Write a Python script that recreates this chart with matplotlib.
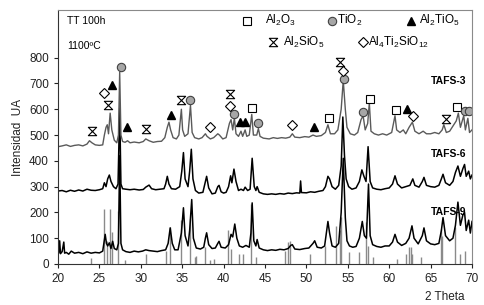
import matplotlib
matplotlib.use("Agg")
import matplotlib.pyplot as plt
from matplotlib.path import Path

plt.rcParams['font.family'] = ['Liberation Sans', 'DejaVu Sans']
plt.rcParams['mathtext.fontset'] = 'custom'
plt.rcParams['mathtext.rm'] = 'Liberation Sans'
plt.rcParams['mathtext.default'] = 'regular'

# --- diffractograms (values as shown, offsets included) ---
t3 = [20.0, 20.02, 20.5, 21, 21.5, 22, 22.5, 23, 23.5, 23.8, 24.1, 24.5, 25.0, 25.4, 25.6, 25.8, 25.95,
      26.1, 26.3, 26.5, 26.8, 27.1, 27.3, 27.45, 27.6, 27.8, 28.1, 28.4, 28.7, 29.2, 29.8, 30.3, 30.6,
      31.0, 31.5, 32, 32.5, 32.9, 33.2, 33.4, 33.6, 33.9, 34.3, 34.6, 34.9, 35.05, 35.3, 35.7, 36.0,
      36.2, 36.5, 37, 37.4, 37.8, 38.0, 38.4, 38.8, 39.3, 39.5, 39.9, 40.3, 40.7, 40.9, 41.1, 41.3,
      41.5, 41.8, 42.1, 42.3, 42.6, 42.8, 43.1, 43.4, 43.6, 44.0, 44.2, 44.4, 44.8, 45.5, 46, 46.5,
      47, 47.5, 48.0, 48.3, 48.6, 49.2, 49.8, 50.3, 50.8, 51.2, 51.8, 52.3, 52.6, 52.9, 53.4, 53.8,
      54.2, 54.45, 54.7, 54.9, 55.3, 55.8, 56.2, 56.6, 56.85, 57.1, 57.4, 57.6, 57.8, 58.2, 58.7,
      59.2, 59.7, 60.3, 60.7, 60.9, 61.3, 61.7, 62.0, 62.4, 62.8, 63.1, 63.6, 64.1, 64.5, 65, 65.5,
      66.0, 66.4, 66.6, 66.9, 67.3, 67.8, 68.1, 68.35, 68.6, 69.0, 69.2, 69.5, 69.7, 70]
i3 = [400, 455, 458, 462, 456, 460, 462, 458, 465, 478, 470, 462, 460, 462, 500, 530, 540,
      505, 585, 520, 480, 470, 500, 745, 500, 475, 472, 478, 470, 473, 470, 475, 485,
      478, 472, 475, 476, 490, 530, 550, 520, 490, 485, 500, 600, 520, 495, 505, 615,
      510, 490, 485, 490, 505, 495, 485, 490, 505, 500, 485, 490, 545, 560, 520, 565,
      505, 495, 515, 495, 520, 495, 500, 580, 500, 500, 525, 495, 488, 485, 490, 487,
      490, 488, 492, 505, 492, 490, 494, 492, 500, 495, 498, 510, 540, 505, 505, 520,
      600, 712, 600, 530, 505, 500, 510, 560, 575, 520, 545, 625, 515, 505, 500,
      505, 500, 510, 575, 520, 510, 520, 505, 530, 550, 515, 505, 515, 505, 505, 510,
      505, 520, 540, 510, 515, 540, 555, 585, 530, 575, 520, 565, 510, 520]

t6 = [20.0, 20.02, 20.5, 21, 21.5, 22, 22.5, 23, 23.5, 24, 24.5, 25, 25.4, 25.6, 25.8, 26.0, 26.2,
      26.4, 26.7, 27.0, 27.25, 27.45, 27.6, 27.8, 28.2, 28.7, 29.2, 29.8, 30.3, 30.6, 31.0, 31.3,
      31.8, 32.3, 32.8, 33.0, 33.2, 33.4, 33.7, 34.2, 34.7, 34.95, 35.15, 35.35, 35.7, 35.9, 36.1,
      36.3, 36.6, 37.0, 37.5, 37.8, 37.95, 38.2, 38.6, 39.0, 39.3, 39.45, 39.7, 40.0, 40.3, 40.6,
      40.85, 41.0, 41.25, 41.5, 41.8, 42.1, 42.4, 42.6, 42.9, 43.2, 43.45, 43.7, 43.9, 44.05, 44.3,
      44.8, 45.3, 45.8, 46.3, 46.8, 47.3, 47.8, 48.3, 48.8, 49.2, 49.3, 49.4, 50.0, 50.5, 51.0,
      51.5, 52.0, 52.3, 52.6, 52.8, 53.1, 53.5, 53.9, 54.2, 54.4, 54.6, 54.8, 55.1, 55.5, 56.0,
      56.4, 56.7, 56.95, 57.2, 57.45, 57.7, 58.0, 58.5, 59.0, 59.5, 60.0, 60.4, 60.7, 61.0, 61.5,
      62.0, 62.5, 62.85, 63.1, 63.6, 64.0, 64.2, 64.5, 65, 65.5, 66.0, 66.3, 66.5, 66.8, 67.3,
      67.7, 68.0, 68.3, 68.6, 68.9, 69.1, 69.3, 69.6, 69.8, 70]
i6 = [200, 283, 285, 280, 286, 282, 287, 283, 290, 286, 285, 288, 292, 315, 300, 330, 345,
      320, 300, 292, 310, 605, 310, 292, 290, 288, 290, 287, 289, 298, 306, 292,
      288, 290, 292, 310, 340, 310, 292, 290, 300, 360, 432, 330, 300, 360, 445,
      330, 285, 275, 278, 320, 340, 295, 272, 275, 300, 305, 280, 275, 278, 300,
      342, 315, 368, 320, 285, 290, 285, 298, 285, 290, 410, 300, 285, 300, 278,
      272, 270, 272, 270, 273, 271, 275, 273, 276, 275, 322, 277, 276, 280, 278,
      282, 285, 300, 340, 330, 300, 290, 305, 380, 570, 420, 330, 300, 290, 295,
      320, 365, 340, 320, 455, 320, 295, 290, 288, 292, 295, 310, 342, 310, 295,
      300, 305, 330, 305, 298, 320, 336, 305, 300, 298, 305, 330, 348, 315, 305,
      320, 355, 380, 340, 370, 386, 340, 360, 330, 345]

t9 = [20.0, 20.02, 20.1, 20.2, 20.3, 20.5, 20.7, 20.8, 21, 21.3, 21.6, 22, 22.5, 23, 23.5, 24, 24.5,
      25, 25.4, 25.6, 25.7, 25.85, 26.0, 26.2, 26.4, 26.6, 26.8, 27.1, 27.3, 27.45, 27.6, 27.8,
      28.2, 28.7, 29.2, 29.7, 30.2, 30.6, 31.0, 31.5, 32, 32.5, 33.0, 33.3, 33.55, 33.8, 34.1,
      34.5, 34.9, 35.15, 35.35, 35.7, 35.9, 36.15, 36.35, 36.7, 37.2, 37.6, 37.8, 37.95, 38.2,
      38.6, 39.0, 39.3, 39.45, 39.7, 40.2, 40.6, 40.9, 41.1, 41.35, 41.6, 41.9, 42.3, 42.7, 43.1,
      43.3, 43.45, 43.65, 43.9, 44.05, 44.3, 44.8, 45.3, 45.8, 46.3, 46.8, 47.3, 47.8, 48.1, 48.3,
      48.6, 49.2, 49.8, 50.3, 50.8, 51.0, 51.3, 51.8, 52.2, 52.6, 52.8, 53.1, 53.5, 53.9, 54.2,
      54.45, 54.7, 54.9, 55.2, 55.6, 56.0, 56.4, 56.75, 57.0, 57.25, 57.5, 57.7, 58.0, 58.5, 59.0,
      59.5, 60.0, 60.4, 60.7, 61.0, 61.5, 62.0, 62.4, 62.75, 63.0, 63.5, 64.0, 64.2, 64.5, 65.0,
      65.5, 66.0, 66.3, 66.5, 66.8, 67.3, 67.7, 68.0, 68.3, 68.6, 68.9, 69.1, 69.3, 69.6, 69.8, 70]
i9 = [0, 38, 45, 90, 40, 48, 85, 42, 45, 38, 50, 42, 45, 40, 47, 42, 45,
      43, 50, 95, 115, 80, 70, 82, 60, 88, 60, 55, 80, 420, 80, 55,
      48, 45, 50, 47, 50, 55, 52, 50, 48, 52, 55, 80, 140, 80, 55,
      55, 120, 218, 110, 70, 130, 250, 100, 62, 58, 65, 100, 121, 75,
      60, 62, 80, 88, 65, 62, 75, 115, 105, 155, 100, 70, 65, 72, 65,
      120, 237, 90, 70, 95, 62, 55, 52, 55, 53, 57, 55, 60, 72, 75,
      58, 56, 60, 62, 80, 90, 65, 62, 70, 165, 120, 70, 65, 80, 200,
      410, 180, 90, 70, 65, 68, 100, 165, 110, 100, 310, 110, 75, 68, 65,
      70, 70, 85, 115, 85, 72, 80, 100, 148, 100, 78, 110, 140, 90, 78,
      75, 80, 130, 180, 110, 90, 100, 150, 240, 150, 190, 200, 130, 170, 120, 165]

# reference pattern sticks
stick_t = [24.0, 25.5, 25.9, 26.3, 26.5, 27.3, 28.1, 30.6, 33.1, 33.5, 34.9, 35.9, 36.5, 36.7,
           37.7, 38.3, 38.9, 40.5, 40.9, 41.9, 42.4, 43.25, 43.9, 47.4, 47.8, 48.0, 50.4, 52.3,
           53.6, 54.0, 54.2, 55.1, 56.4, 57.2, 57.4, 58.0, 61.0, 62.0, 62.4, 62.6, 62.8, 63.8,
           66.2, 66.4, 68.0, 68.6, 69.2]
stick_i = [24, 214, 91, 214, 123, 205, 17, 39, 52, 143, 169, 175, 26, 30,
           65, 16, 20, 130, 58, 39, 39, 234, 26, 52, 84, 91, 39, 71,
           149, 130, 182, 45, 45, 162, 71, 26, 20, 39, 65, 65, 39, 29,
           136, 110, 143, 39, 52]

# phase markers
al2o3_t = [43.4, 52.7, 57.7, 60.8, 68.2]
al2o3_i = [604, 568, 639, 597, 607]
tio2_t = [27.6, 36.0, 41.3, 44.2, 54.6, 56.8, 69.1, 69.6]
tio2_i = [763, 635, 581, 546, 717, 591, 594, 594]
al2tio5_t = [26.5, 28.3, 33.7, 42.0, 42.6, 50.9, 62.2]
al2tio5_i = [695, 533, 578, 549, 549, 533, 600]
al2sio5_t = [24.1, 26.0, 30.6, 34.9, 40.8, 54.0, 66.9]
al2sio5_i = [516, 616, 525, 636, 659, 782, 562]
al4_t = [25.5, 38.4, 40.8, 48.3, 54.4, 62.9]
al4_i = [663, 533, 613, 538, 750, 572]

hourglass = Path([(-1, 1), (1, 1), (-1, -1), (1, -1), (-1, 1)],
                 [Path.MOVETO, Path.LINETO, Path.LINETO, Path.LINETO, Path.CLOSEPOLY])

fig = plt.figure(figsize=(4.85, 3.05), dpi=100)
ax = fig.add_axes([58 / 485, 41 / 305, 414 / 485, 254 / 305])

ax.vlines(stick_t, 0, stick_i, color='#8a8a8a', lw=1)
ax.plot(t9, i9, color='black', lw=1.1)
ax.plot(t6, i6, color='black', lw=1.1)
ax.plot(t3, i3, color='#5a5a5a', lw=1.0)

ms = 6
ax.plot(al2o3_t, al2o3_i, 's', ms=ms, mfc='white', mec='black', mew=0.8, ls='none')
ax.plot(tio2_t, tio2_i, 'o', ms=ms, mfc='#a6a6a6', mec='#404040', mew=0.8, ls='none')
ax.plot(al2tio5_t, al2tio5_i, '^', ms=ms, mfc='black', mec='black', ls='none')
ax.plot(al2sio5_t, al2sio5_i, marker=hourglass, ms=ms, mfc='white', mec='black', mew=0.8, ls='none')
ax.plot(al4_t, al4_i, 'D', ms=4.8, mfc='white', mec='black', mew=0.8, ls='none')

# legend drawn inside the frame
tr = ax.transAxes
ax.plot([0.457], [0.957], 's', ms=ms, mfc='white', mec='black', mew=0.8, transform=tr)
ax.text(0.50, 0.957, r'Al$_2$O$_3$', transform=tr, fontsize=8.5, va='center')
ax.plot([0.662], [0.957], 'o', ms=ms, mfc='#a6a6a6', mec='#404040', mew=0.8, transform=tr)
ax.text(0.674, 0.957, r'TiO$_2$', transform=tr, fontsize=8.5, va='center')
ax.plot([0.852], [0.957], '^', ms=ms, mfc='black', mec='black', transform=tr)
ax.text(0.872, 0.957, r'Al$_2$TiO$_5$', transform=tr, fontsize=8.5, va='center')
ax.plot([0.519], [0.874], marker=hourglass, ms=ms, mfc='white', mec='black', mew=0.8, transform=tr)
ax.text(0.543, 0.874, r'Al$_2$SiO$_5$', transform=tr, fontsize=8.5, va='center')
ax.plot([0.737], [0.874], 'D', ms=4.8, mfc='white', mec='black', mew=0.8, transform=tr)
ax.text(0.748, 0.874, r'Al$_4$Ti$_2$SiO$_{12}$', transform=tr, fontsize=8.5, va='center')

ax.text(0.022, 0.957, 'TT 100h', transform=tr, fontsize=7.5, va='center')
ax.text(0.022, 0.857, '1100ºC', transform=tr, fontsize=7.5, va='center')

ax.text(67.2, 710, 'TAFS-3', fontsize=7.5, fontweight='bold', ha='center', va='center')
ax.text(67.2, 425, 'TAFS-6', fontsize=7.5, fontweight='bold', ha='center', va='center')
ax.text(67.2, 200, 'TAFS-9', fontsize=7.5, fontweight='bold', ha='center', va='center')

ax.set_xlim(20, 70)
ax.set_ylim(0, 985)
ax.set_xticks(range(20, 71, 5))
ax.set_yticks(range(0, 801, 100))
ax.tick_params(labelsize=8.5, length=3, width=0.8, colors='#222222')
for side in ['top', 'right']:
    ax.spines[side].set_color('#8a8a8a')
for side in ['left', 'bottom']:
    ax.spines[side].set_color('#333333')
ax.set_ylabel('Intensidad  UA', fontsize=8.5, color='#222222', labelpad=4)
fig.text(445 / 485, 1 - 297 / 305, '2 Theta', fontsize=8.5, ha='center', va='center', color='#222222')

fig.savefig('out.png', dpi=100)
